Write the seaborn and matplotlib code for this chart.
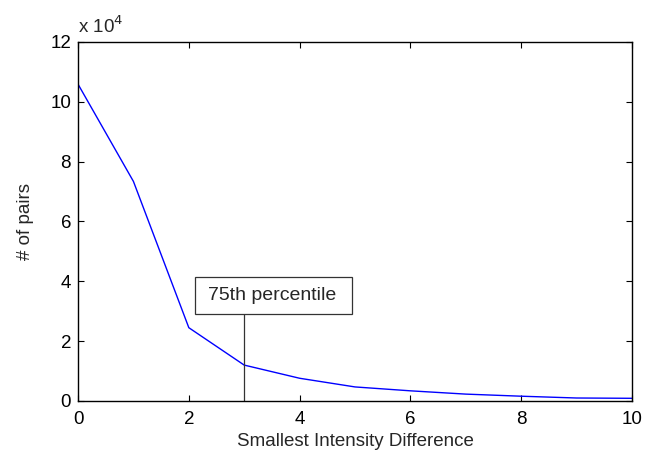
import matplotlib
matplotlib.use("Agg")
import matplotlib.pyplot as plt
import matplotlib.patches as mpatches
import seaborn as sns
import pandas as pd

# Number of pixel pairs per smallest intensity difference
intensity_diff = [0, 1, 2, 3, 4, 5, 6, 7, 8, 9, 10]
pair_counts = [105900, 73400, 24500, 12000, 7600, 4700, 3400, 2300, 1600, 1000, 900]
percentile_x = 3
percentile_label = "75th percentile"
scale = 1e4

sns.set_style("ticks")
plt.rcParams["font.family"] = ["Liberation Sans", "DejaVu Sans"]
FS = 13.5
plt.rcParams["font.size"] = FS

df = pd.DataFrame({"diff": intensity_diff, "pairs": [c / scale for c in pair_counts]})

fig = plt.figure(figsize=(6.47, 4.53), dpi=100)
ax = fig.add_axes([0.1206, 0.1148, 0.8562, 0.7925])

sns.lineplot(data=df, x="diff", y="pairs", ax=ax, color="#0000ff", linewidth=1.0)

ax.set_xlim(0, 10)
ax.set_ylim(0, 12)
ax.set_xticks([0, 2, 4, 6, 8, 10])
ax.set_yticks([0, 2, 4, 6, 8, 10, 12])
ax.tick_params(direction="in", length=4, width=0.8, top=True, right=True,
               labelsize=FS, colors="black")
ax.tick_params(axis="x", pad=7)
ax.tick_params(axis="y", pad=5)
for s in ax.spines.values():
    s.set_color("black")
    s.set_linewidth(1.0)

ax.set_xlabel("Smallest Intensity Difference", fontsize=FS, labelpad=4)
ax.set_ylabel("# of pairs", fontsize=FS, labelpad=12)
ax.text(0.0, 1.015, r"x 10$^{4}$", transform=ax.transAxes, fontsize=FS,
        ha="left", va="bottom")

# Percentile marker with labelled box
box_x0, box_x1, box_y0, box_y1 = 2.11, 4.95, 2.91, 4.15
ax.plot([percentile_x, percentile_x], [0, box_y0], color="#333333", linewidth=0.9)
ax.add_patch(mpatches.Rectangle((box_x0, box_y0), box_x1 - box_x0, box_y1 - box_y0,
                                facecolor="white", edgecolor="#333333",
                                linewidth=0.9, zorder=3))
ax.text((box_x0 + box_x1) / 2 - 0.02, (box_y0 + box_y1) / 2 - 0.02, percentile_label,
        fontsize=14, ha="center", va="center", zorder=4)

fig.savefig("out.png", dpi=100)
